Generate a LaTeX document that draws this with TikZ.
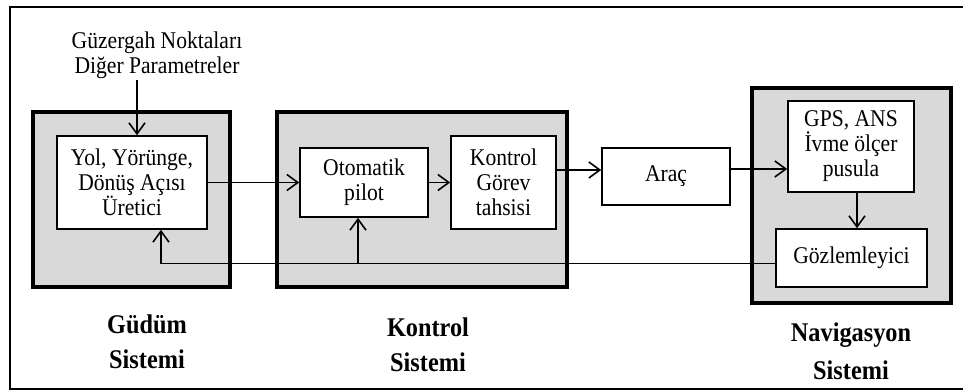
\documentclass[tikz,border=0pt]{standalone}
\usepackage{fontspec}
\setmainfont{Liberation Serif}[FakeStretch=0.9]
\usetikzlibrary{arrows.meta,calc}
\definecolor{boxgray}{HTML}{D9D9D9}
\tikzset{
 sysbox/.style={draw=black, line width=4pt, fill=boxgray, rectangle, inner sep=0pt},
 blockbox/.style={draw=black, line width=1.6pt, fill=white, rectangle, align=center, inner sep=0pt, font=\fontsize{24}{25}\selectfont},
 arr/.style={line width=1.6pt, -{Straight Barb[length=11pt,width=16pt,line width=1.6pt]}},
 plainline/.style={line width=1.6pt},
 syslabel/.style={align=center, font=\fontsize{27}{35}\selectfont\bfseries},
 inlabel/.style={align=center, font=\fontsize{24}{25}\selectfont}
}
\begin{document}
\begin{tikzpicture}[x=1pt,y=-1pt]
\useasboundingbox (0,0) rectangle (963,390);
\begin{scope}
\clip (0,0) rectangle (963,390);
\draw[line width=2.6pt] (10,7) rectangle (970,389);
\end{scope}
% system boxes
\node[sysbox, minimum width=197pt, minimum height=175pt] (gsys) at (131.5,199.5) {};
\node[sysbox, minimum width=290pt, minimum height=175pt] (ksys) at (422,199.5) {};
\node[sysbox, minimum width=199pt, minimum height=215pt] (nsys) at (851.5,195.5) {};
% blocks
\node[blockbox, minimum width=150pt, minimum height=93pt] (yol) at (132,182.5) {Yol, Yörünge,\\Dönüş Açısı\\Üretici};
\node[blockbox, minimum width=128pt, minimum height=69pt] (oto) at (364,182.5) {Otomatik\\pilot};
\node[blockbox, minimum width=105pt, minimum height=93pt] (kg) at (503.5,182.5) {Kontrol\\Görev\\tahsisi};
\node[blockbox, minimum width=128pt, minimum height=57pt] (arac) at (666,176.5) {Araç};
\node[blockbox, minimum width=126pt, minimum height=91pt] (gps) at (851,146.5) {GPS, ANS\\İvme ölçer\\pusula};
\node[blockbox, minimum width=151pt, minimum height=58pt] (goz) at (851.5,258) {Gözlemleyici};
% texts
\node[inlabel] (inp) at (157,55) {Güzergah Noktaları\\Diğer Parametreler};
\node[syslabel] (gl) at (147,342) {Güdüm\\Sistemi};
\node[syslabel] (kl) at (428,345) {Kontrol\\Sistemi};
\node[syslabel, font=\fontsize{27}{38}\selectfont\bfseries] (nl) at (851,351) {Navigasyon\\Sistemi};
% connectors
\coordinate (inpEnd) at (137,80);
\draw[arr] (inpEnd) -- (yol.north -| inpEnd);
\draw[arr] (yol.east) -- (oto.west);
\draw[arr] (oto.east) -- (kg.west);
\coordinate (k2a) at (0,170);
\draw[arr] (kg.east |- k2a) -- (arac.west |- k2a);
\coordinate (a2g) at (0,169);
\draw[arr] (arac.east |- a2g) -- (gps.west |- a2g);
\coordinate (g2g) at (857,0);
\draw[arr] (gps.south -| g2g) -- (goz.north -| g2g);
\coordinate (fbL) at (161,263.5);
\coordinate (fbM) at (358,263.5);
\draw[plainline] (goz.west |- fbL) -- (fbL);
\draw[arr] (fbL) -- (yol.south -| fbL);
\draw[arr] (fbM) -- (oto.south -| fbM);
\end{tikzpicture}
\end{document}
